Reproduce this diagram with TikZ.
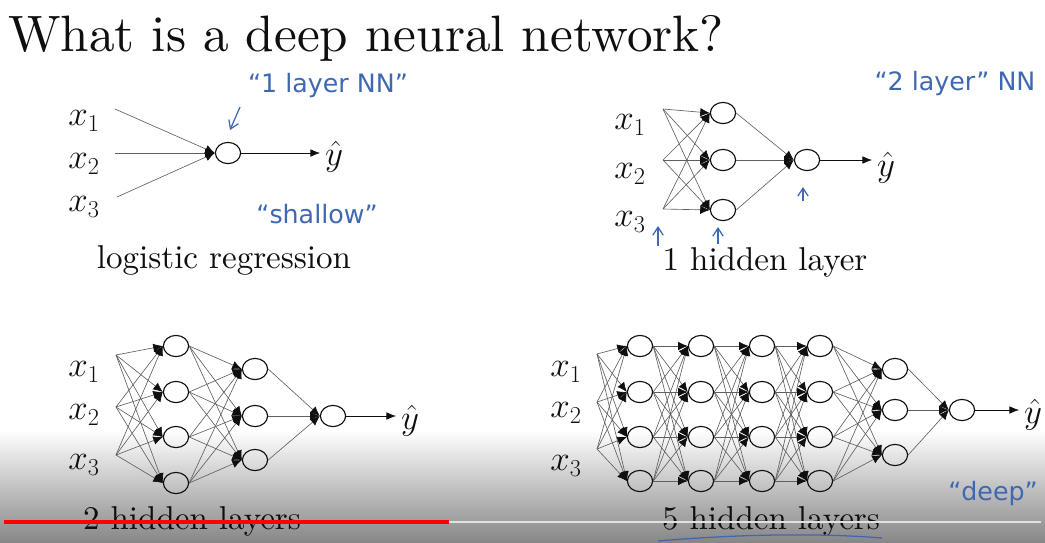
\documentclass[tikz,border=0pt]{standalone}
\usepackage{fontspec}
\setmainfont{lmroman10-regular.otf}
\newfontfamily\handfont{DejaVu Sans}
\usepackage{tikz}
\usetikzlibrary{arrows.meta,positioning,shapes.geometric,calc}
\definecolor{ink}{RGB}{15,15,15}
\definecolor{wiregray}{RGB}{95,95,95}
\definecolor{pen}{RGB}{62,104,178}
\definecolor{playred}{RGB}{255,0,0}
\definecolor{track}{RGB}{225,225,225}

\begin{document}
\begin{tikzpicture}[x=0.025cm,y=-0.025cm,
    every node/.style={font=\fontsize{23.5}{28}\selectfont,text=ink},
    unit/.style={draw=ink,ellipse,line width=0.8pt,
      minimum width=0.63cm,minimum height=0.53cm,inner sep=0pt},
    wire/.style={draw=wiregray,line width=0.45pt,
      -{Latex[length=0.24cm,width=0.21cm,ink]}},
    feed/.style={draw=ink,line width=0.5pt,
      -{Latex[length=0.24cm,width=0.19cm]}},
    note/.style={text=pen,font=\handfont\fontsize{18}{21}\selectfont},
    tick/.style={pen,line width=0.9pt,-{Straight Barb[length=2mm,width=2.6mm]}}
  ]
  \useasboundingbox (0,0) rectangle (1045,542);
  \fill[white] (0,0) rectangle (1045,542);
  \shade[top color=white,middle color=black!12,bottom color=black!47]
    (0,430) rectangle (1045,542);

  \node[anchor=base west,inner sep=0pt,font=\fontsize{36.4}{40}\selectfont]
    (title) at (8,51) {What is a deep neural network?};

  % logistic regression
  \foreach \i/\y in {1/121,2/164,3/207}
    \node (lx\i) at (84,\y) {$x_{\i}$};
  \coordinate (li1) at (115,109);
  \coordinate (li2) at (115,153);
  \coordinate (li3) at (117,197);
  \node[unit] (lo) at (228,153) {};
  \foreach \i in {1,2,3} \draw[wire] (li\i) -- (lo.west);
  \node (ly) at (334,157) {$\hat{y}$};
  \draw[feed] (lo.east) -- (lo -| ly.west);
  \node[anchor=base] (lname) at (224,268) {logistic regression};

  % 1 hidden layer
  \foreach \i/\y in {1/125,2/174,3/222}
    \node (sx\i) at (630,\y) {$x_{\i}$};
  \foreach \i/\y in {1/109,2/160,3/209}
    \coordinate (si\i) at (663,\y);
  \foreach \j/\y in {1/113,2/160,3/210}
    \node[unit] (sh\j) at (723,\y) {};
  \node[unit] (so) at (807,160) {};
  \foreach \i in {1,2,3}{
    \foreach \j in {1,2,3} \draw[wire] (si\i) -- (sh\j.west);
    \draw[wire] (sh\i.east) -- (so.west);
  }
  \node (sy) at (886,168) {$\hat{y}$};
  \draw[feed] (so.east) -- (so -| sy.west);
  \node[anchor=base] (sname) at (765,270) {1 hidden layer};

  % 2 hidden layers
  \foreach \i/\y in {1/372,2/415,3/465}
    \node (tx\i) at (84,\y) {$x_{\i}$};
  \foreach \i/\y in {1/355,2/407,3/455}
    \coordinate (ti\i) at (116,\y);
  \foreach \j/\y in {1/346,2/392,3/437,4/483}
    \node[unit] (ta\j) at (176,\y) {};
  \foreach \k/\y in {1/369,2/416,3/460}
    \node[unit] (tb\k) at (255,\y) {};
  \node[unit] (to) at (333,416) {};
  \foreach \j in {1,...,4}{
    \foreach \i in {1,2,3} \draw[wire] (ti\i) -- (ta\j.west);
    \foreach \k in {1,2,3} \draw[wire] (ta\j.east) -- (tb\k.west);
  }
  \foreach \k in {1,2,3} \draw[wire] (tb\k.east) -- (to.west);
  \node (ty) at (410,421) {$\hat{y}$};
  \draw[feed] (to.east) -- (to -| ty.west);
  \node[anchor=base] (tname) at (192,529) {2 hidden layers};

  % 5 hidden layers
  \foreach \i/\y in {1/372,2/413,3/466}
    \node (dx\i) at (566,\y) {$x_{\i}$};
  \foreach \i/\y in {1/354,2/402,3/449}
    \coordinate (di\i) at (597,\y);
  \foreach \c/\x in {1/640,2/701,3/762,4/820}
    \foreach \j/\y in {1/346,2/392,3/437,4/481}
      \node[unit] (d\c\j) at (\x,\y) {};
  \foreach \k/\y in {1/369,2/410,3/455}
    \node[unit] (d5\k) at (895,\y) {};
  \node[unit] (dout) at (962,410) {};
  \foreach \j in {1,...,4}
    \foreach \i in {1,2,3} \draw[wire] (di\i) -- (d1\j.west);
  \foreach \c/\n in {1/2,2/3,3/4}
    \foreach \j in {1,...,4}
      \foreach \k in {1,...,4} \draw[wire] (d\c\j.east) -- (d\n\k.west);
  \foreach \j in {1,...,4}
    \foreach \k in {1,2,3} \draw[wire] (d4\j.east) -- (d5\k.west);
  \foreach \k in {1,2,3} \draw[wire] (d5\k.east) -- (dout.west);
  \node (dy) at (1033,415) {$\hat{y}$};
  \draw[feed] (dout.east) -- (dout -| dy.west);
  \node[anchor=base] (dname) at (771,529) {5 hidden layers};

  % pen notes
  \node[note] (n1) at (328,86) {“1 layer NN”};
  \node[note] (n2) at (955,84) {“2 layer” NN};
  \node[note] (n3) at (317,214) {“shallow”};
  \node[note] (n4) at (993,494) {“deep”};
  \draw[tick] (240,107) -- (230,130);
  \draw[tick] (658,246) -- (658,226);
  \draw[tick] (718,244) -- (718,227);
  \draw[tick] (803,201) -- (803,187);
  \draw[pen,line width=0.9pt]
    (658,541) .. controls (740,534) and (820,533) .. (882,538);

  % player bar
  \draw[track,line width=2pt] (449,522) -- (1041,522);
  \draw[playred,line width=2.8pt] (4,522) -- (449,522);
\end{tikzpicture}
\end{document}
